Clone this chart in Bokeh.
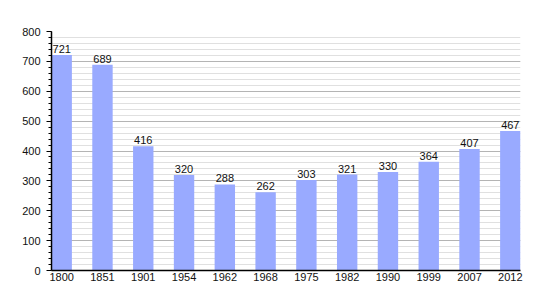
from bokeh.plotting import figure
from bokeh.models import ColumnDataSource, FixedTicker, Range1d, LabelSet, CustomJSTickFormatter
from bokeh.core.properties import value
from bokeh.embed import file_html
from bokeh.resources import INLINE

years = ["1800", "1851", "1901", "1954", "1962", "1968", "1975", "1982", "1990", "1999", "2007", "2012"]
population = [721, 689, 416, 320, 288, 262, 303, 321, 330, 364, 407, 467]
y_ticks = [0, 100, 200, 300, 400, 500, 600, 700, 800]

xs = list(range(len(years)))
src = ColumnDataSource(dict(x=xs, top=population, label=[str(v) for v in population]))

p = figure(width=550, height=300, output_backend="svg", toolbar_location=None,
           x_range=Range1d(-0.25, len(years) - 0.75), y_range=Range1d(0, 800),
           min_border_left=51, min_border_right=30, min_border_top=31, min_border_bottom=30)
p.outline_line_color = None
p.background_fill_color = "white"
p.border_fill_color = "white"

p.vbar(x="x", top="top", width=0.5, bottom=0, source=src, fill_color="#99aaff", line_color=None)

labels = LabelSet(x="x", y="top", text="label", source=src, text_align="center",
                  text_baseline="bottom", y_offset=2, text_font=value("Liberation Sans"),
                  text_font_size="11px", text_color="#111111")
p.add_layout(labels)

p.xaxis.ticker = FixedTicker(ticks=xs)
p.xaxis.formatter = CustomJSTickFormatter(args=dict(names=years), code="return names[tick];")
p.xaxis.major_tick_line_color = None
p.xaxis.major_tick_out = 0
p.xaxis.major_tick_in = 0
p.xaxis.minor_tick_line_color = None
p.xaxis.axis_line_color = "black"
p.xaxis.axis_line_width = 1.5
p.xaxis.major_label_text_font = "Liberation Sans"
p.xaxis.major_label_text_font_size = "11px"
p.xaxis.major_label_text_color = "#111111"
p.xaxis.major_label_standoff = 2

p.yaxis.ticker = FixedTicker(ticks=y_ticks, minor_ticks=list(range(0, 801, 20)))
p.yaxis.axis_line_color = "black"
p.yaxis.axis_line_width = 1.5
p.yaxis.major_tick_out = 5
p.yaxis.major_tick_in = 0
p.yaxis.minor_tick_out = 3
p.yaxis.minor_tick_in = 0
p.yaxis.major_label_text_font = "Liberation Sans"
p.yaxis.major_label_text_font_size = "11px"
p.yaxis.major_label_text_color = "#111111"
p.yaxis.major_label_standoff = 6

p.xgrid.grid_line_color = None
p.ygrid.grid_line_color = "#b4b4b4"
p.ygrid.minor_grid_line_color = "#e0e0e0"
p.ygrid.level = "underlay"

open("out.html", "w").write(file_html(p, INLINE))
